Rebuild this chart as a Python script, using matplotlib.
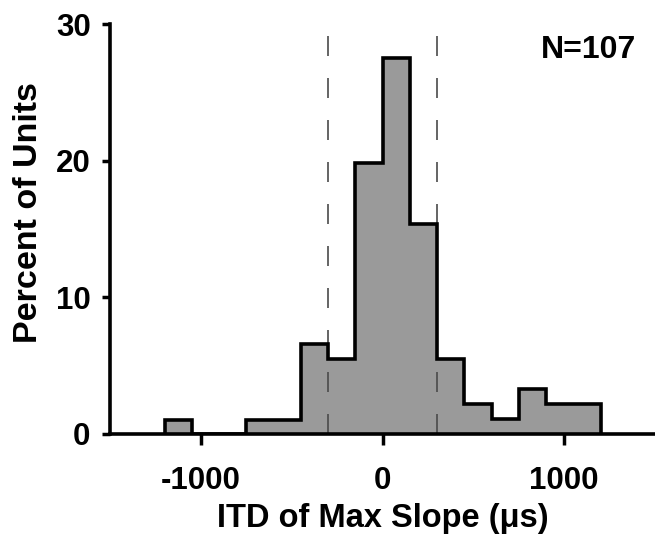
import numpy as np
import matplotlib
matplotlib.use("Agg")
import matplotlib.pyplot as plt

plt.rcParams["font.family"] = ["Liberation Sans", "DejaVu Sans"]
plt.rcParams["font.weight"] = "bold"

# histogram of ITD of max slope (bin width 150 us)
bin_edges = [-1200, -1050, -900, -750, -600, -450, -300, -150, 0,
             150, 300, 450, 600, 750, 900, 1050, 1200]
percent_units = [1.0, 0.0, 0.0, 1.0, 1.0, 6.6, 5.5, 19.8, 27.5,
                 15.4, 5.5, 2.2, 1.1, 3.3, 2.2, 2.2]
ref_lines = [-300, 300]
x_ticks = [-1000, 0, 1000]
y_ticks = [0, 10, 20, 30]
n_label = "N=107"

fig = plt.figure(figsize=(6.55, 5.35), dpi=100)
ax = fig.add_axes([0.168, 0.189, 0.832, 0.766])

ax.stairs(percent_units, bin_edges, fill=True, color="#9a9a9a", lw=0, zorder=1)
for xv in ref_lines:
    ax.axvline(xv, color="#4a4a4a", lw=1.2, dashes=(12, 13.2), zorder=2)
ax.stairs(percent_units, bin_edges, fill=False, color="black", lw=2.6, zorder=3)

ax.set_xlim(-1500, 1500)
ax.set_ylim(0, 30)
ax.set_xticks(x_ticks)
ax.set_yticks(y_ticks)
ax.set_xticklabels([str(v) for v in x_ticks])

for s in ("top", "right"):
    ax.spines[s].set_visible(False)
for s in ("left", "bottom"):
    ax.spines[s].set_linewidth(2.6)

ax.tick_params(axis="x", direction="out", length=8, width=2.5, pad=15, labelsize=22.5)
ax.tick_params(axis="y", direction="out", length=6, width=2.5, pad=8, labelsize=22.5)
for lab in ax.get_xticklabels() + ax.get_yticklabels():
    lab.set_fontweight("bold")

ax.set_xlabel("ITD of Max Slope (\u03bcs)", fontsize=23.5, fontweight="bold", labelpad=5)
ax.set_ylabel("Percent of Units", fontsize=24.5, fontweight="bold")
ax.yaxis.set_label_coords(-0.122, 0.54)

ax.text(1395, 29.2, n_label, ha="right", va="top", fontsize=23, fontweight="bold")

fig.savefig("out.png", dpi=100)
